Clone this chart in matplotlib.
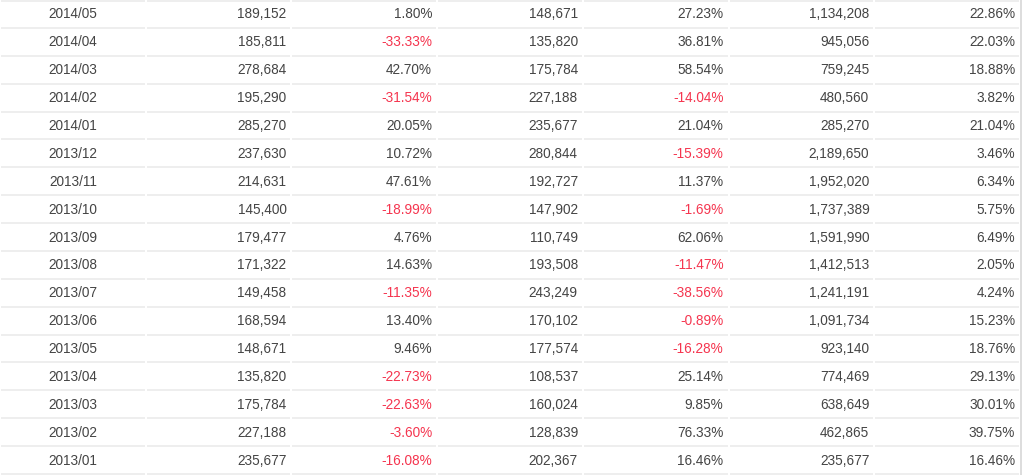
import matplotlib.pyplot as plt

months = ['2014/05', '2014/04', '2014/03', '2014/02', '2014/01', '2013/12',
          '2013/11', '2013/10', '2013/09', '2013/08', '2013/07', '2013/06',
          '2013/05', '2013/04', '2013/03', '2013/02', '2013/01']
sales = [189152, 185811, 278684, 195290, 285270, 237630, 214631, 145400, 179477,
         171322, 149458, 168594, 148671, 135820, 175784, 227188, 235677]
sales_mom = [1.80, -33.33, 42.70, -31.54, 20.05, 10.72, 47.61, -18.99, 4.76,
             14.63, -11.35, 13.40, 9.46, -22.73, -22.63, -3.60, -16.08]
prev_sales = [148671, 135820, 175784, 227188, 235677, 280844, 192727, 147902, 110749,
              193508, 243249, 170102, 177574, 108537, 160024, 128839, 202367]
sales_yoy = [27.23, 36.81, 58.54, -14.04, 21.04, -15.39, 11.37, -1.69, 62.06,
             -11.47, -38.56, -0.89, -16.28, 25.14, 9.85, 76.33, 16.46]
ytd = [1134208, 945056, 759245, 480560, 285270, 2189650, 1952020, 1737389, 1591990,
       1412513, 1241191, 1091734, 923140, 774469, 638649, 462865, 235677]
ytd_yoy = [22.86, 22.03, 18.88, 3.82, 21.04, 3.46, 6.34, 5.75, 6.49,
           2.05, 4.24, 15.23, 18.76, 29.13, 30.01, 39.75, 16.46]

plt.rcParams['font.family'] = 'Liberation Sans'

W, H = 1024, 475
fig = plt.figure(figsize=(W / 100, H / 100), dpi=100)
ax = fig.add_axes([0, 0, 1, 1])
ax.set_xlim(0, W)
ax.set_ylim(H, 0)
ax.axis('off')

ncol = 7
table_w = 1020
col_w = table_w / ncol
row_h = 474 / len(months)
text_c = '#444444'
red = '#f5354f'
line_c = '#ebebeb'

columns = [months, sales, sales_mom, prev_sales, sales_yoy, ytd, ytd_yoy]
kinds = ['label', 'int', 'pct', 'int', 'pct', 'int', 'pct']

# top border
for c in range(ncol):
    ax.hlines(0.5, c * col_w + 1, (c + 1) * col_w - 1, color=line_c, lw=1.2)

for r in range(len(months)):
    yc = (r + 0.5) * row_h + 0.5
    yb = (r + 1) * row_h
    for c in range(ncol):
        x0 = c * col_w
        ax.hlines(yb, x0 + 1, x0 + col_w - 1, color=line_c, lw=1.2)
        val = columns[c][r]
        kind = kinds[c]
        if kind == 'label':
            ax.text(x0 + col_w / 2, yc, val, ha='center', va='center',
                    fontsize=9.8, color=text_c)
        elif kind == 'int':
            ax.text(x0 + col_w - 5, yc, f'{val:,}', ha='right', va='center',
                    fontsize=9.8, color=text_c)
        else:
            ax.text(x0 + col_w - 5, yc, f'{val:.2f}%', ha='right', va='center',
                    fontsize=9.8, color=red if val < 0 else text_c)

ax.vlines(table_w + 0.5, 0, H, color='#dddddd', lw=1.4)

fig.savefig('out.png', dpi=100)
